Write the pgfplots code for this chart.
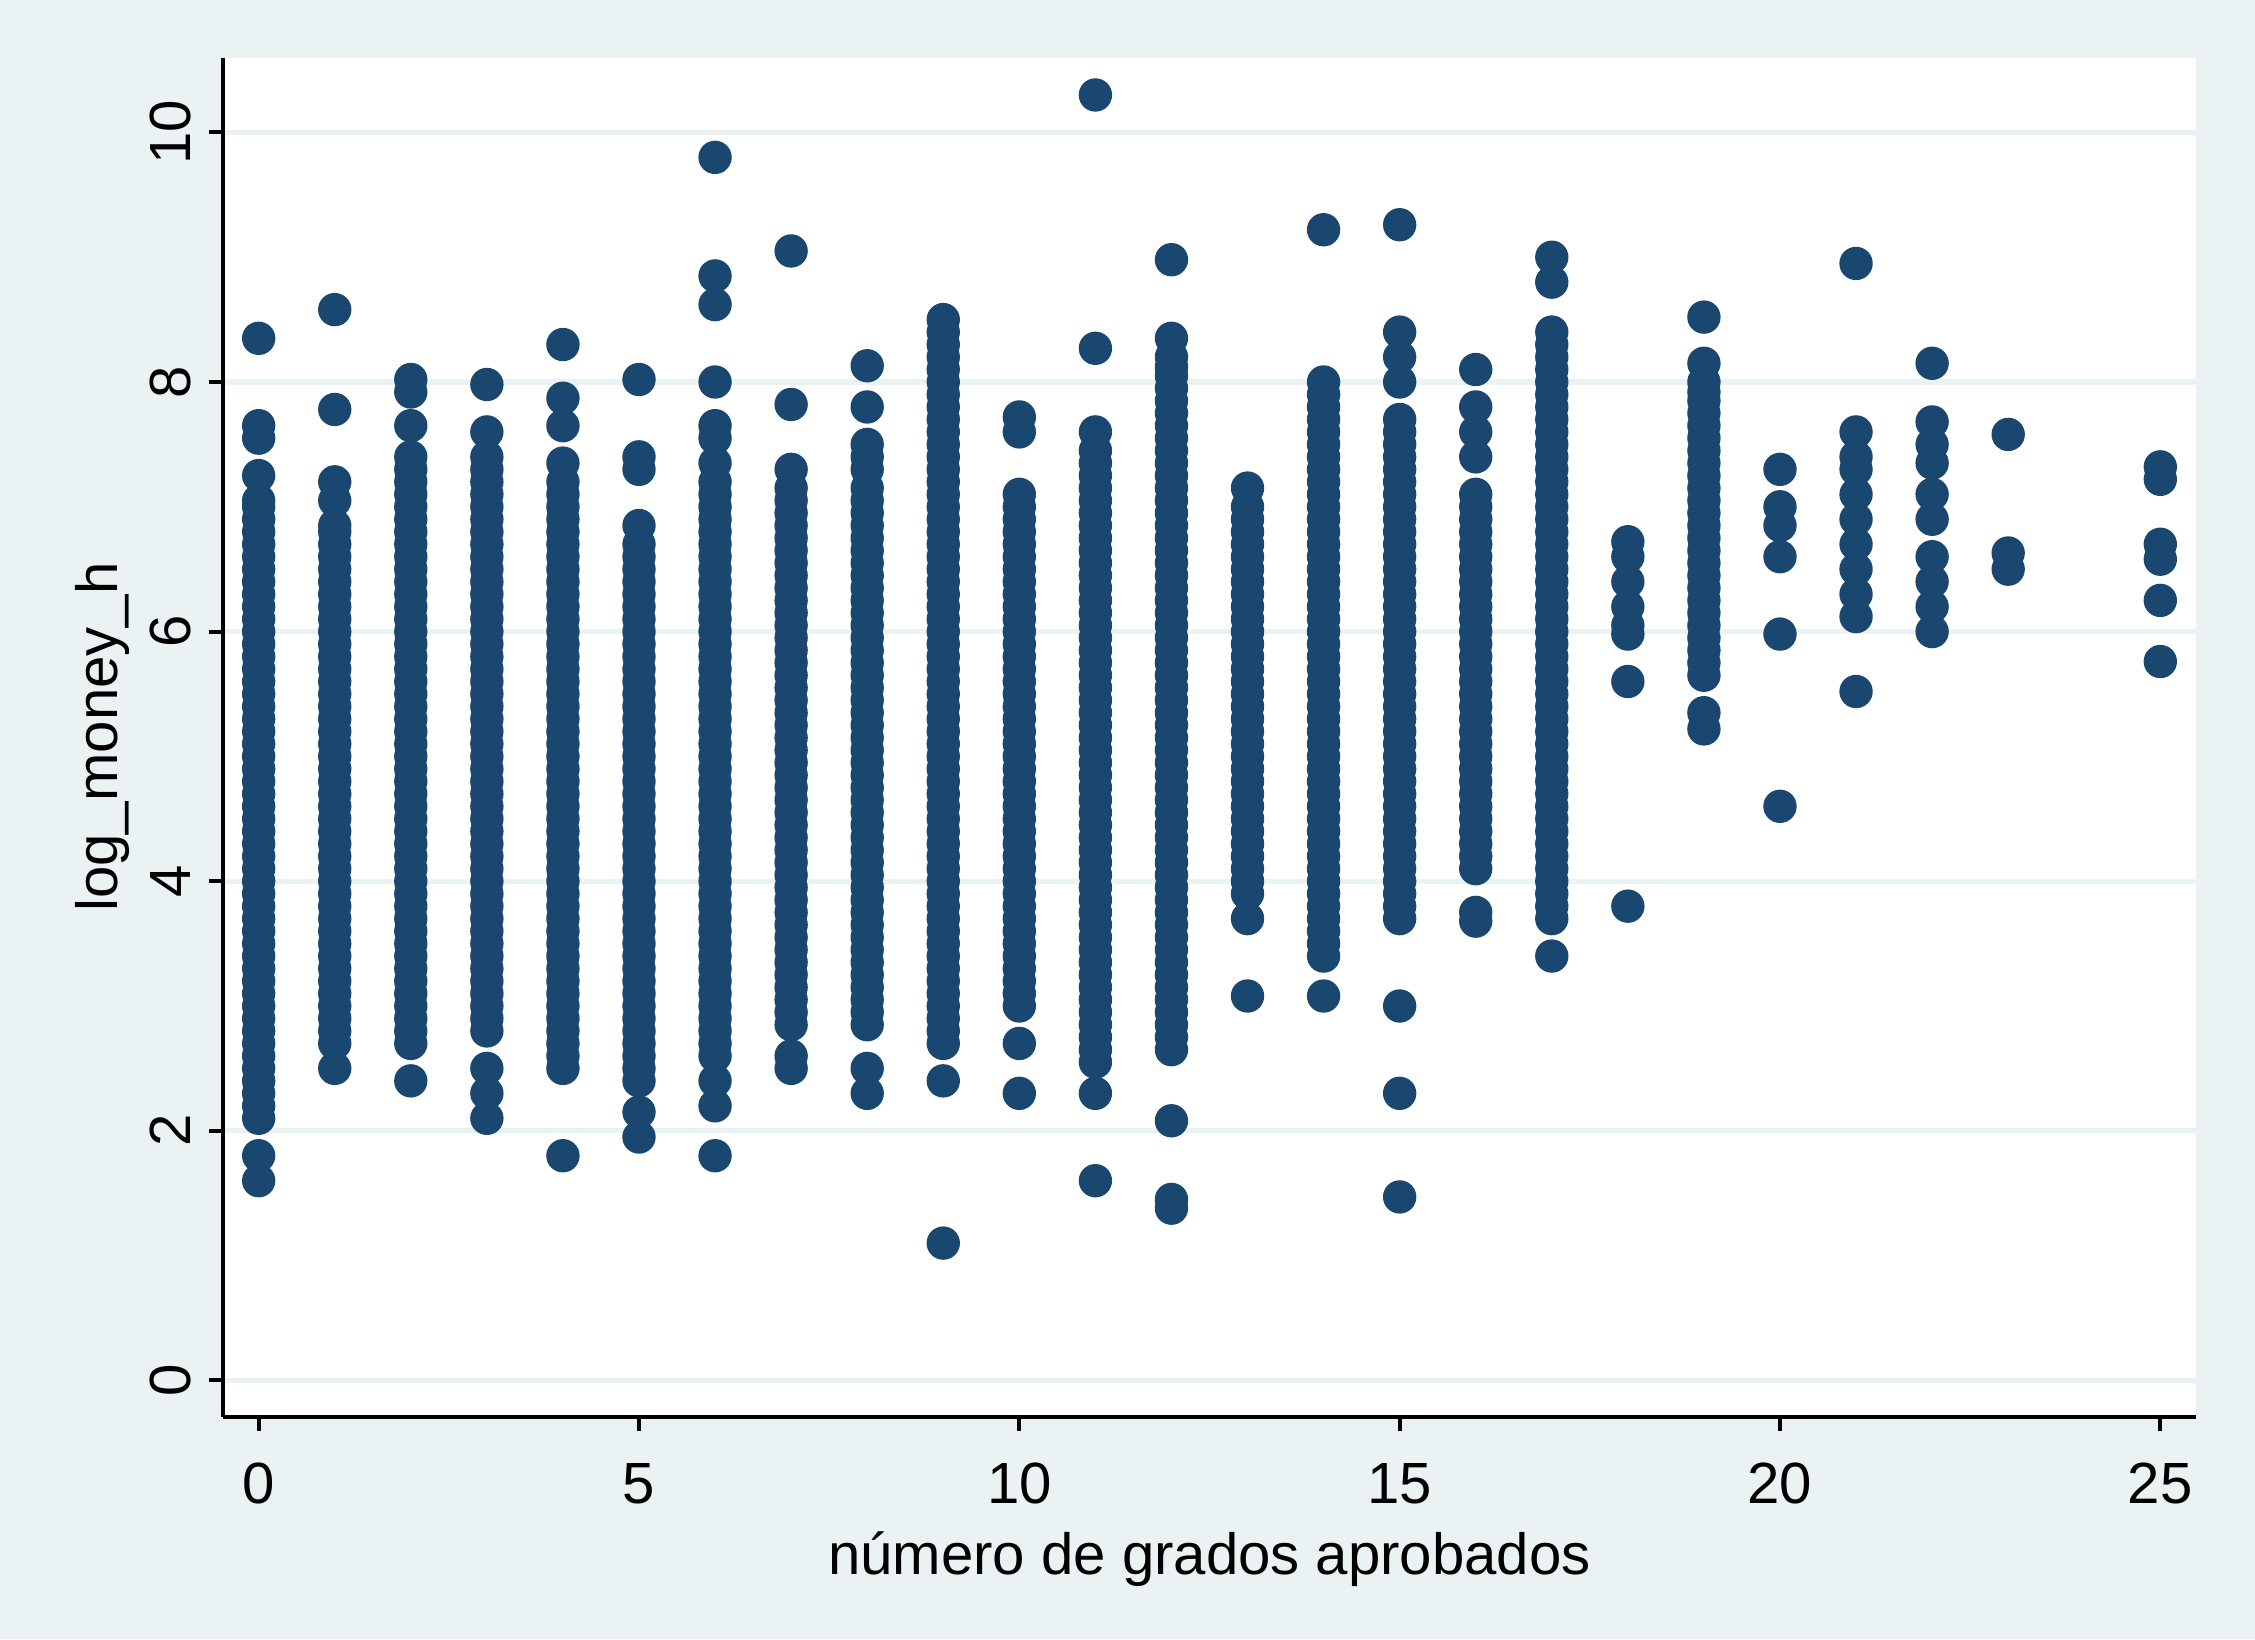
\documentclass[border=0pt]{standalone}
\usepackage{pgfplots}
\pgfplotsset{compat=1.18}
\usepackage{fontspec}
\setmainfont{Liberation Sans}
\definecolor{bg}{HTML}{EAF2F3}
\definecolor{nv}{HTML}{1A476F}
\begin{document}
\begin{tikzpicture}
\fill[bg] (0,0) rectangle (15.68,11.4);
\begin{axis}[at={(1.55cm,1.55cm)},anchor=south west,
 scale only axis,width=13.72cm,height=9.45cm,
 xmin=-0.47,xmax=25.47,ymin=-0.29,ymax=10.6,
 axis lines*=left, axis line style={-,black,line width=0.8pt},
 axis background/.style={fill=white},
 xtick={0,5,...,25},ytick={0,2,...,10},
 tick align=outside, major tick length=0.1cm, tick style={black,line width=0.8pt},
 ymajorgrids, grid style={bg,line width=1pt},
 yticklabel style={rotate=90},
 xticklabel style={yshift=-0.1cm},
 ticklabel style={font=\fontsize{11.5}{13}\selectfont},
 label style={font=\fontsize{11.5}{13}\selectfont},
 /pgf/number format/assume math mode=true,
 xlabel={número de grados aprobados}, ylabel={log\_money\_h},
 xlabel style={yshift=0.05cm}, ylabel style={yshift=-0.1cm},
 clip=false]
\addplot[only marks, mark=*, mark size=3.1pt, nv, mark options={fill=nv,draw=nv}] coordinates {
(0,8.35)(0,7.65)(0,7.55)(0,7.25)(0,1.8)(0,1.6)
(0,2.1)(0,2.3)(0,2.5)(0,2.7)(0,2.9)(0,3.1)(0,3.3)(0,3.5)(0,3.7)(0,3.9)(0,4.1)(0,4.3)(0,4.5)(0,4.7)(0,4.9)(0,5.1)(0,5.3)(0,5.5)(0,5.7)(0,5.9)(0,6.1)(0,6.3)(0,6.5)(0,6.7)(0,6.9)(0,7.05)
(1,8.58)(1,7.78)(1,7.2)(1,7.05)(1,2.5)
(1,2.7)(1,2.9)(1,3.1)(1,3.3)(1,3.5)(1,3.7)(1,3.9)(1,4.1)(1,4.3)(1,4.5)(1,4.7)(1,4.9)(1,5.1)(1,5.3)(1,5.5)(1,5.7)(1,5.9)(1,6.1)(1,6.3)(1,6.5)(1,6.7)(1,6.85)
(2,8.02)(2,7.92)(2,7.65)(2,2.4)
(2,2.7)(2,2.9)(2,3.1)(2,3.3)(2,3.5)(2,3.7)(2,3.9)(2,4.1)(2,4.3)(2,4.5)(2,4.7)(2,4.9)(2,5.1)(2,5.3)(2,5.5)(2,5.7)(2,5.9)(2,6.1)(2,6.3)(2,6.5)(2,6.7)(2,6.9)(2,7.1)(2,7.3)(2,7.4)
(3,7.98)(3,7.6)(3,2.5)(3,2.3)(3,2.1)
(3,2.8)(3,3.0)(3,3.2)(3,3.4)(3,3.6)(3,3.8)(3,4.0)(3,4.2)(3,4.4)(3,4.6)(3,4.8)(3,5.0)(3,5.2)(3,5.4)(3,5.6)(3,5.8)(3,6.0)(3,6.2)(3,6.4)(3,6.6)(3,6.8)(3,7.0)(3,7.2)(3,7.4)
(4,8.3)(4,7.87)(4,7.65)(4,1.8)
(4,2.5)(4,2.7)(4,2.9)(4,3.1)(4,3.3)(4,3.5)(4,3.7)(4,3.9)(4,4.1)(4,4.3)(4,4.5)(4,4.7)(4,4.9)(4,5.1)(4,5.3)(4,5.5)(4,5.7)(4,5.9)(4,6.1)(4,6.3)(4,6.5)(4,6.7)(4,6.9)(4,7.1)(4,7.35)
(5,8.02)(5,7.4)(5,7.3)(5,2.15)(5,1.95)
(5,2.4)(5,2.6)(5,2.8)(5,3.0)(5,3.2)(5,3.4)(5,3.6)(5,3.8)(5,4.0)(5,4.2)(5,4.4)(5,4.6)(5,4.8)(5,5.0)(5,5.2)(5,5.4)(5,5.6)(5,5.8)(5,6.0)(5,6.2)(5,6.4)(5,6.6)(5,6.85)
(6,9.8)(6,8.85)(6,8.62)(6,8.0)(6,7.65)(6,7.55)(6,2.4)(6,2.2)(6,1.8)
(6,2.6)(6,2.8)(6,3.0)(6,3.2)(6,3.4)(6,3.6)(6,3.8)(6,4.0)(6,4.2)(6,4.4)(6,4.6)(6,4.8)(6,5.0)(6,5.2)(6,5.4)(6,5.6)(6,5.8)(6,6.0)(6,6.2)(6,6.4)(6,6.6)(6,6.8)(6,7.0)(6,7.2)(6,7.35)
(7,9.05)(7,7.82)(7,2.6)(7,2.5)
(7,2.85)(7,3.05)(7,3.25)(7,3.45)(7,3.65)(7,3.85)(7,4.05)(7,4.25)(7,4.45)(7,4.65)(7,4.85)(7,5.05)(7,5.25)(7,5.45)(7,5.65)(7,5.85)(7,6.05)(7,6.25)(7,6.45)(7,6.65)(7,6.85)(7,7.05)(7,7.3)
(8,8.13)(8,7.8)(8,2.5)(8,2.3)
(8,2.85)(8,3.05)(8,3.25)(8,3.45)(8,3.65)(8,3.85)(8,4.05)(8,4.25)(8,4.45)(8,4.65)(8,4.85)(8,5.05)(8,5.25)(8,5.45)(8,5.65)(8,5.85)(8,6.05)(8,6.25)(8,6.45)(8,6.65)(8,6.85)(8,7.05)(8,7.3)(8,7.5)
(9,2.4)(9,1.1)
(9,2.7)(9,2.9)(9,3.1)(9,3.3)(9,3.5)(9,3.7)(9,3.9)(9,4.1)(9,4.3)(9,4.5)(9,4.7)(9,4.9)(9,5.1)(9,5.3)(9,5.5)(9,5.7)(9,5.9)(9,6.1)(9,6.3)(9,6.5)(9,6.7)(9,6.9)(9,7.1)(9,7.3)(9,7.5)(9,7.7)(9,7.9)(9,8.1)(9,8.3)(9,8.5)
(10,7.72)(10,7.6)(10,2.7)(10,2.3)
(10,3.0)(10,3.2)(10,3.4)(10,3.6)(10,3.8)(10,4.0)(10,4.2)(10,4.4)(10,4.6)(10,4.8)(10,5.0)(10,5.2)(10,5.4)(10,5.6)(10,5.8)(10,6.0)(10,6.2)(10,6.4)(10,6.6)(10,6.8)(10,7.0)(10,7.1)
(11,10.3)(11,8.27)(11,2.3)(11,1.6)
(11,2.55)(11,2.75)(11,2.95)(11,3.15)(11,3.35)(11,3.55)(11,3.75)(11,3.95)(11,4.15)(11,4.35)(11,4.55)(11,4.75)(11,4.95)(11,5.15)(11,5.35)(11,5.55)(11,5.75)(11,5.95)(11,6.15)(11,6.35)(11,6.55)(11,6.75)(11,6.95)(11,7.15)(11,7.35)(11,7.6)
(12,8.98)(12,2.08)(12,1.45)(12,1.38)
(12,2.65)(12,2.85)(12,3.05)(12,3.25)(12,3.45)(12,3.65)(12,3.85)(12,4.05)(12,4.25)(12,4.45)(12,4.65)(12,4.85)(12,5.05)(12,5.25)(12,5.45)(12,5.65)(12,5.85)(12,6.05)(12,6.25)(12,6.45)(12,6.65)(12,6.85)(12,7.05)(12,7.25)(12,7.45)(12,7.65)(12,7.85)(12,8.05)(12,8.2)(12,8.35)
(13,3.7)(13,3.08)
(13,3.9)(13,4.1)(13,4.3)(13,4.5)(13,4.7)(13,4.9)(13,5.1)(13,5.3)(13,5.5)(13,5.7)(13,5.9)(13,6.1)(13,6.3)(13,6.5)(13,6.7)(13,6.9)(13,7.15)
(14,9.22)(14,3.08)
(14,3.4)(14,3.6)(14,3.8)(14,4.0)(14,4.2)(14,4.4)(14,4.6)(14,4.8)(14,5.0)(14,5.2)(14,5.4)(14,5.6)(14,5.8)(14,6.0)(14,6.2)(14,6.4)(14,6.6)(14,6.8)(14,7.0)(14,7.2)(14,7.4)(14,7.6)(14,7.8)(14,8.0)
(15,9.26)(15,3.0)(15,2.3)(15,1.47)
(15,3.7)(15,3.9)(15,4.1)(15,4.3)(15,4.5)(15,4.7)(15,4.9)(15,5.1)(15,5.3)(15,5.5)(15,5.7)(15,5.9)(15,6.1)(15,6.3)(15,6.5)(15,6.7)(15,6.9)(15,7.1)(15,7.3)(15,7.5)(15,7.7)(15,8.0)(15,8.2)(15,8.4)
(16,8.1)(16,3.75)(16,3.68)
(16,4.1)(16,4.3)(16,4.5)(16,4.7)(16,4.9)(16,5.1)(16,5.3)(16,5.5)(16,5.7)(16,5.9)(16,6.1)(16,6.3)(16,6.5)(16,6.7)(16,6.9)(16,7.1)(16,7.4)(16,7.6)(16,7.8)
(17,9.0)(17,8.8)(17,3.4)
(17,3.7)(17,3.9)(17,4.1)(17,4.3)(17,4.5)(17,4.7)(17,4.9)(17,5.1)(17,5.3)(17,5.5)(17,5.7)(17,5.9)(17,6.1)(17,6.3)(17,6.5)(17,6.7)(17,6.9)(17,7.1)(17,7.3)(17,7.5)(17,7.7)(17,7.9)(17,8.1)(17,8.3)(17,8.4)
(18,6.72)(18,6.6)(18,6.4)(18,6.2)(18,6.05)(18,5.98)(18,5.6)(18,3.8)
(19,8.52)(19,5.35)(19,5.22)
(19,5.65)(19,5.85)(19,6.05)(19,6.25)(19,6.45)(19,6.65)(19,6.85)(19,7.05)(19,7.25)(19,7.45)(19,7.65)(19,7.85)(19,8.0)(19,8.15)
(20,7.3)(20,7.0)(20,6.85)(20,6.6)(20,5.98)(20,4.6)
(21,8.95)(21,7.6)(21,7.4)(21,7.3)(21,7.1)(21,6.9)(21,6.7)(21,6.5)(21,6.3)(21,6.12)(21,5.52)
(22,8.15)(22,7.68)(22,7.5)(22,7.35)(22,7.1)(22,6.9)(22,6.6)(22,6.4)(22,6.2)(22,6.0)
(23,7.58)(23,6.63)(23,6.5)
(25,7.32)(25,7.22)(25,6.7)(25,6.58)(25,6.25)(25,5.76)
};
\addplot[only marks, mark=*, mark size=3.1pt, nv, mark options={fill=nv,draw=nv}] coordinates {
(0,2.2)(0,2.4)(0,2.6)(0,2.8)(0,3.0)(0,3.2)(0,3.4)(0,3.6)(0,3.8)(0,4.0)(0,4.2)(0,4.4)(0,4.6)(0,4.8)(0,5.0)(0,5.2)(0,5.4)(0,5.6)(0,5.8)(0,6.0)(0,6.2)(0,6.4)(0,6.6)(0,6.8)(0,7.0)
(1,2.8)(1,3.0)(1,3.2)(1,3.4)(1,3.6)(1,3.8)(1,4.0)(1,4.2)(1,4.4)(1,4.6)(1,4.8)(1,5.0)(1,5.2)(1,5.4)(1,5.6)(1,5.8)(1,6.0)(1,6.2)(1,6.4)(1,6.6)(1,6.8)
(2,2.8)(2,3.0)(2,3.2)(2,3.4)(2,3.6)(2,3.8)(2,4.0)(2,4.2)(2,4.4)(2,4.6)(2,4.8)(2,5.0)(2,5.2)(2,5.4)(2,5.6)(2,5.8)(2,6.0)(2,6.2)(2,6.4)(2,6.6)(2,6.8)(2,7.0)(2,7.2)
(3,2.9)(3,3.1)(3,3.3)(3,3.5)(3,3.7)(3,3.9)(3,4.1)(3,4.3)(3,4.5)(3,4.7)(3,4.9)(3,5.1)(3,5.3)(3,5.5)(3,5.7)(3,5.9)(3,6.1)(3,6.3)(3,6.5)(3,6.7)(3,6.9)(3,7.1)(3,7.3)
(4,2.6)(4,2.8)(4,3.0)(4,3.2)(4,3.4)(4,3.6)(4,3.8)(4,4.0)(4,4.2)(4,4.4)(4,4.6)(4,4.8)(4,5.0)(4,5.2)(4,5.4)(4,5.6)(4,5.8)(4,6.0)(4,6.2)(4,6.4)(4,6.6)(4,6.8)(4,7.0)(4,7.2)
(5,2.5)(5,2.7)(5,2.9)(5,3.1)(5,3.3)(5,3.5)(5,3.7)(5,3.9)(5,4.1)(5,4.3)(5,4.5)(5,4.7)(5,4.9)(5,5.1)(5,5.3)(5,5.5)(5,5.7)(5,5.9)(5,6.1)(5,6.3)(5,6.5)(5,6.7)
(6,2.7)(6,2.9)(6,3.1)(6,3.3)(6,3.5)(6,3.7)(6,3.9)(6,4.1)(6,4.3)(6,4.5)(6,4.7)(6,4.9)(6,5.1)(6,5.3)(6,5.5)(6,5.7)(6,5.9)(6,6.1)(6,6.3)(6,6.5)(6,6.7)(6,6.9)(6,7.1)
(7,2.95)(7,3.15)(7,3.35)(7,3.55)(7,3.75)(7,3.95)(7,4.15)(7,4.35)(7,4.55)(7,4.75)(7,4.95)(7,5.15)(7,5.35)(7,5.55)(7,5.75)(7,5.95)(7,6.15)(7,6.35)(7,6.55)(7,6.75)(7,6.95)(7,7.15)
(8,2.95)(8,3.15)(8,3.35)(8,3.55)(8,3.75)(8,3.95)(8,4.15)(8,4.35)(8,4.55)(8,4.75)(8,4.95)(8,5.15)(8,5.35)(8,5.55)(8,5.75)(8,5.95)(8,6.15)(8,6.35)(8,6.55)(8,6.75)(8,6.95)(8,7.15)(8,7.4)
(9,2.8)(9,3.0)(9,3.2)(9,3.4)(9,3.6)(9,3.8)(9,4.0)(9,4.2)(9,4.4)(9,4.6)(9,4.8)(9,5.0)(9,5.2)(9,5.4)(9,5.6)(9,5.8)(9,6.0)(9,6.2)(9,6.4)(9,6.6)(9,6.8)(9,7.0)(9,7.2)(9,7.4)(9,7.6)(9,7.8)(9,8.0)(9,8.2)(9,8.4)
(10,3.1)(10,3.3)(10,3.5)(10,3.7)(10,3.9)(10,4.1)(10,4.3)(10,4.5)(10,4.7)(10,4.9)(10,5.1)(10,5.3)(10,5.5)(10,5.7)(10,5.9)(10,6.1)(10,6.3)(10,6.5)(10,6.7)(10,6.9)
(11,2.65)(11,2.85)(11,3.05)(11,3.25)(11,3.45)(11,3.65)(11,3.85)(11,4.05)(11,4.25)(11,4.45)(11,4.65)(11,4.85)(11,5.05)(11,5.25)(11,5.45)(11,5.65)(11,5.85)(11,6.05)(11,6.25)(11,6.45)(11,6.65)(11,6.85)(11,7.05)(11,7.25)(11,7.45)
(12,2.75)(12,2.95)(12,3.15)(12,3.35)(12,3.55)(12,3.75)(12,3.95)(12,4.15)(12,4.35)(12,4.55)(12,4.75)(12,4.95)(12,5.15)(12,5.35)(12,5.55)(12,5.75)(12,5.95)(12,6.15)(12,6.35)(12,6.55)(12,6.75)(12,6.95)(12,7.15)(12,7.35)(12,7.55)(12,7.75)(12,7.95)(12,8.12)
(13,4.0)(13,4.2)(13,4.4)(13,4.6)(13,4.8)(13,5.0)(13,5.2)(13,5.4)(13,5.6)(13,5.8)(13,6.0)(13,6.2)(13,6.4)(13,6.6)(13,6.8)(13,7.0)
(14,3.5)(14,3.7)(14,3.9)(14,4.1)(14,4.3)(14,4.5)(14,4.7)(14,4.9)(14,5.1)(14,5.3)(14,5.5)(14,5.7)(14,5.9)(14,6.1)(14,6.3)(14,6.5)(14,6.7)(14,6.9)(14,7.1)(14,7.3)(14,7.5)(14,7.7)(14,7.9)
(15,3.8)(15,4.0)(15,4.2)(15,4.4)(15,4.6)(15,4.8)(15,5.0)(15,5.2)(15,5.4)(15,5.6)(15,5.8)(15,6.0)(15,6.2)(15,6.4)(15,6.6)(15,6.8)(15,7.0)(15,7.2)(15,7.4)(15,7.6)
(16,4.2)(16,4.4)(16,4.6)(16,4.8)(16,5.0)(16,5.2)(16,5.4)(16,5.6)(16,5.8)(16,6.0)(16,6.2)(16,6.4)(16,6.6)(16,6.8)(16,7.0)
(17,3.8)(17,4.0)(17,4.2)(17,4.4)(17,4.6)(17,4.8)(17,5.0)(17,5.2)(17,5.4)(17,5.6)(17,5.8)(17,6.0)(17,6.2)(17,6.4)(17,6.6)(17,6.8)(17,7.0)(17,7.2)(17,7.4)(17,7.6)(17,7.8)(17,8.0)(17,8.2)
(19,5.75)(19,5.95)(19,6.15)(19,6.35)(19,6.55)(19,6.75)(19,6.95)(19,7.15)(19,7.35)(19,7.55)(19,7.75)(19,7.92)
};
\end{axis}
\end{tikzpicture}
\end{document}
